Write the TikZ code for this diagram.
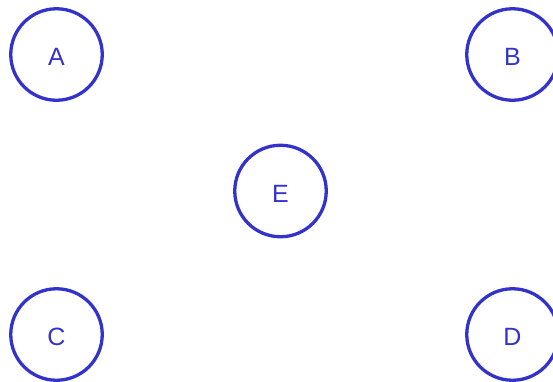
\documentclass[tikz,border=0pt]{standalone}
\usepackage{fontspec}
\setmainfont{Liberation Sans}
\definecolor{nodeblue}{HTML}{3333CC}
\begin{document}
\begin{tikzpicture}[x=1pt,y=-1pt,
  vertex/.style={circle,draw=nodeblue,line width=3.3pt,minimum size=91.5pt,inner sep=0pt,text=nodeblue,text height=22pt,text depth=0pt,font=\fontsize{25}{30}\selectfont}]
\useasboundingbox (0,0) rectangle (553,381);
\node[vertex] (A) at (56.5,54.5) {A};
\node[vertex] (B) at (512.5,54.5) {B};
\node[vertex] (E) at (280.5,191) {E};
\node[vertex] (C) at (56.5,334.5) {C};
\node[vertex] (D) at (512.5,334.5) {D};
\end{tikzpicture}
\end{document}
